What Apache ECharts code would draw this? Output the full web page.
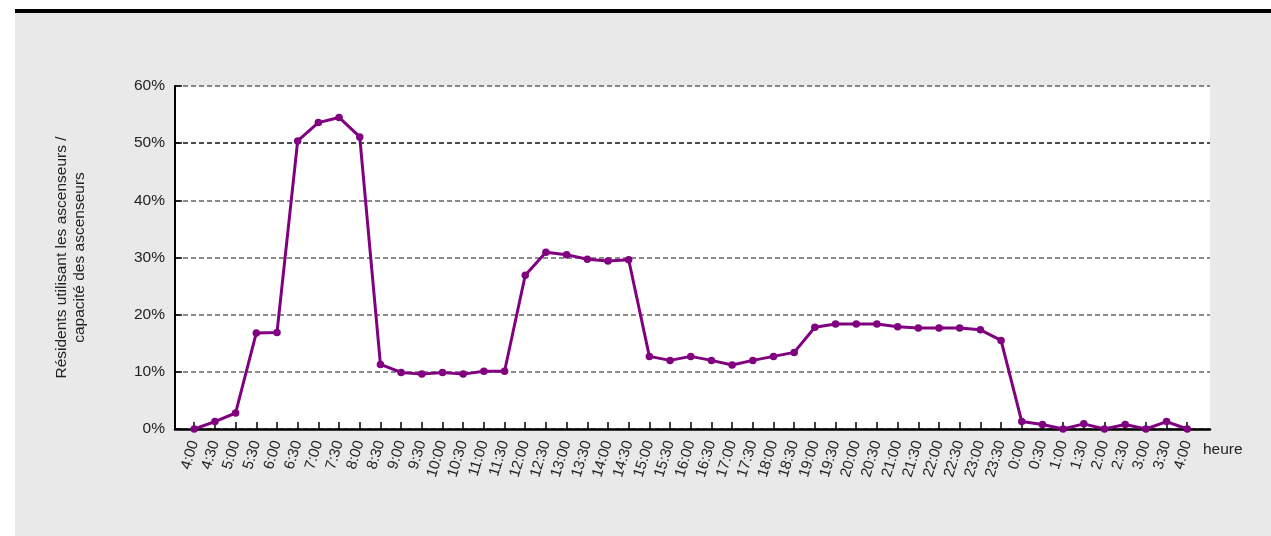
<!DOCTYPE html>
<html>
<head>
<meta charset="utf-8">
<script src="https://cdn.jsdelivr.net/npm/echarts@6/dist/echarts.min.js"></script>
<style>
  body { margin: 0; background: #fff; }
  #frame { position: absolute; left: 15px; top: 9px; width: 1256px; height: 523px; border-top: 4px solid #000; background: #e9e9e9; }
  #main { position: absolute; left: 0; top: 0; width: 1271px; height: 536px; }
</style>
</head>
<body>
<div id="frame"></div>
<div id="main"></div>
<script>
// heures (demi-heures, de 4:00 à 4:00 le lendemain)
let hours = ["4:00", "4:30", "5:00", "5:30", "6:00", "6:30", "7:00", "7:30", "8:00", "8:30",
  "9:00", "9:30", "10:00", "10:30", "11:00", "11:30", "12:00", "12:30", "13:00", "13:30",
  "14:00", "14:30", "15:00", "15:30", "16:00", "16:30", "17:00", "17:30", "18:00", "18:30",
  "19:00", "19:30", "20:00", "20:30", "21:00", "21:30", "22:00", "22:30", "23:00", "23:30",
  "0:00", "0:30", "1:00", "1:30", "2:00", "2:30", "3:00", "3:30", "4:00"];

// résidents utilisant les ascenseurs / capacité (%)
let usage = [0, 1.3, 2.8, 16.8, 16.9, 50.4, 53.6, 54.5, 51.1, 11.3,
  9.9, 9.6, 9.9, 9.6, 10.1, 10.1, 26.9, 30.9, 30.5, 29.7,
  29.4, 29.6, 12.7, 12.0, 12.7, 12.0, 11.2, 12.0, 12.7, 13.4,
  17.8, 18.35, 18.35, 18.35, 17.9, 17.65, 17.65, 17.65, 17.35, 15.5,
  1.3, 0.8, 0, 0.9, 0, 0.8, 0, 1.3, 0];

let yTicks = [0, 10, 20, 30, 40, 50, 60];

let chart = echarts.init(document.getElementById("main"));
let idx = hours.map((h, i) => i);

chart.setOption({
  animation: false,
  textStyle: { fontFamily: "Liberation Sans, Arial, sans-serif" },
  grid: {
    left: 175,
    top: 86,
    width: 1035,
    height: 343,
    show: true,
    backgroundColor: "#fff",
    borderWidth: 0
  },
  xAxis: {
    type: "value",
    min: -0.93,
    max: 49.1,
    name: "heure",
    nameLocation: "end",
    nameGap: -7,
    nameTextStyle: { fontSize: 15.5, color: "#222", verticalAlign: "top", padding: [13, 0, 0, 0] },
    axisLine: { onZero: false, lineStyle: { color: "#000", width: 2.5 } },
    axisTick: { inside: true, length: 7, lineStyle: { color: "#000", width: 1.5 }, customValues: idx },
    axisLabel: {
      customValues: idx,
      rotate: 73,
      fontSize: 15,
      color: "#222",
      margin: 12,
      formatter: v => hours[Math.round(v)]
    },
    splitLine: { show: false }
  },
  yAxis: {
    type: "value",
    min: yTicks[0],
    max: yTicks[yTicks.length - 1],
    interval: 10,
    name: "Résidents utilisant les ascenseurs /\ncapacité des ascenseurs",
    nameLocation: "middle",
    nameGap: 86,
    nameTextStyle: { fontSize: 15.5, color: "#222", lineHeight: 18 },
    axisLine: { show: true, onZero: false, lineStyle: { color: "#000", width: 2 } },
    axisTick: { show: true, inside: true, length: 7, lineStyle: { color: "#000", width: 1.5 } },
    axisLabel: { formatter: "{value}%", fontSize: 15.5, color: "#222", margin: 10 },
    splitLine: {
      show: true,
      lineStyle: {
        type: [5, 3],
        width: 1.5,
        color: ["#666", "#666", "#666", "#666", "#666", "#111", "#666"]
      }
    }
  },
  series: [{
    name: "usage",
    type: "line",
    data: usage.map((v, i) => [i, v]),
    symbol: "circle",
    symbolSize: 7.5,
    itemStyle: { color: "#800080" },
    lineStyle: { color: "#800080", width: 3 }
  }]
});
</script>
</body>
</html>
